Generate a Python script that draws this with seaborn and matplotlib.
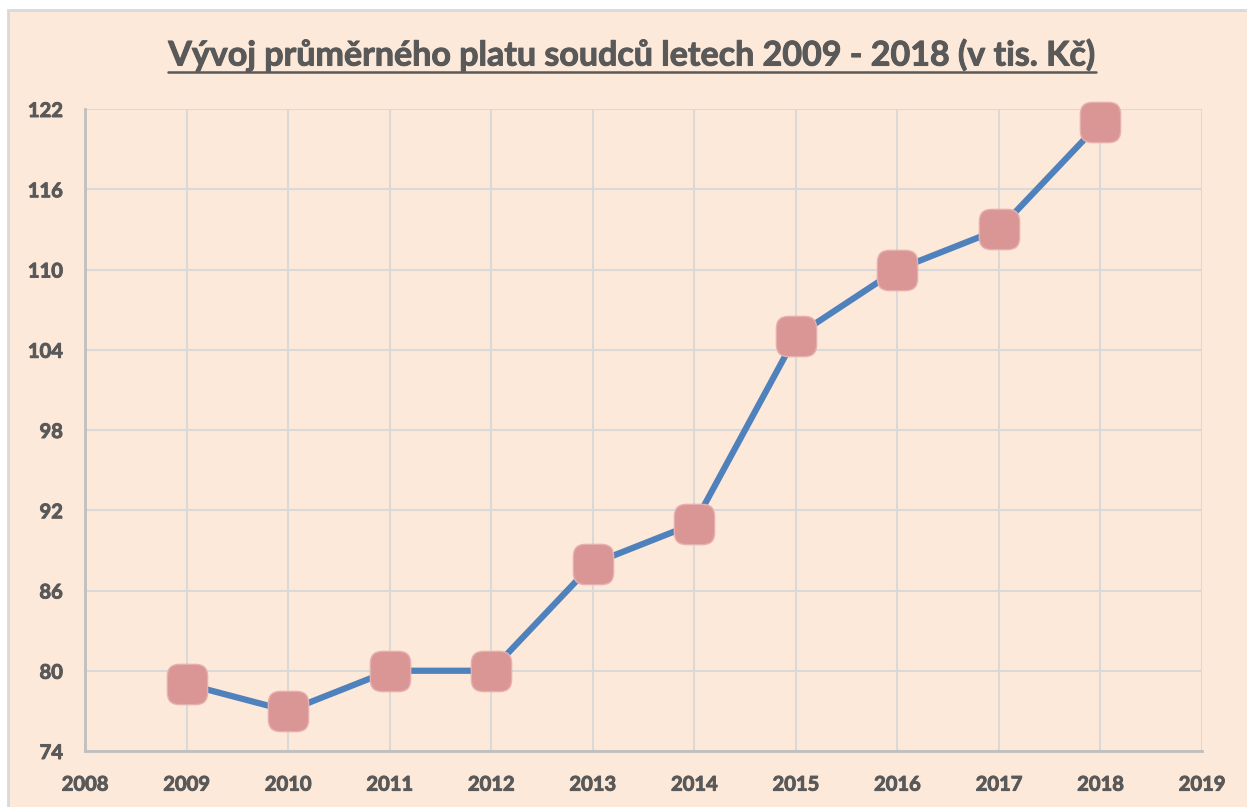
import matplotlib
matplotlib.use("Agg")
import matplotlib.pyplot as plt
import matplotlib.patches as mpatches
import matplotlib.patheffects as pe
from matplotlib.lines import Line2D
import seaborn as sns
import pandas as pd

# data
years = [2009, 2010, 2011, 2012, 2013, 2014, 2015, 2016, 2017, 2018]
salary = [79, 77, 80, 80, 88, 91, 105, 110, 113, 121]
xticks = list(range(2008, 2020))
yticks = [74, 80, 86, 92, 98, 104, 110, 116, 122]
title = "Vývoj průměrného platu soudců letech 2009 - 2018 (v tis. Kč)"

df = pd.DataFrame({"rok": years, "plat": salary})

sns.set_style("white")
plt.rcParams["font.family"] = ["Lato", "DejaVu Sans"]

bg = "#FDE9D9"
txt = "#595959"
bold_fx = [pe.withStroke(linewidth=0.7, foreground=txt)]

fig = plt.figure(figsize=(12.47, 8.07), dpi=100, facecolor="white")
# chart area box (cropped on right/bottom like the source)
fig.patches.append(mpatches.Rectangle((8 / 1247, -0.05), 1.2, 1 - 10 / 807 + 0.05,
                                      transform=fig.transFigure, facecolor=bg,
                                      edgecolor="#D9D9D9", linewidth=2, zorder=-10))

ax = fig.add_axes([85 / 1247, 1 - 751 / 807, (1202 - 85) / 1247, (751 - 109) / 807])
ax.set_facecolor(bg)

# rounded square marker
rs = mpatches.BoxStyle.Round(pad=0, rounding_size=0.3)
marker_path = rs(-0.5, -0.5, 1.0, 1.0, 1.0)

sns.lineplot(data=df, x="rok", y="plat", ax=ax, color="#4F81BD", linewidth=4.5,
             marker=marker_path, markersize=29, markerfacecolor="#DA9694",
             markeredgecolor="#E6B0AE", markeredgewidth=1, zorder=3, clip_on=False)

ax.set_xlim(2008, 2019)
ax.set_ylim(74, 122)
ax.set_xticks(xticks)
ax.set_yticks(yticks)
ax.grid(True, color="#D9D9D9", linewidth=1.5)
ax.set_axisbelow(True)
for s in ["top", "right"]:
    ax.spines[s].set_visible(False)
for s in ["left", "bottom"]:
    ax.spines[s].set_color("#BFBFBF")
    ax.spines[s].set_linewidth(2)
ax.tick_params(length=0, labelsize=14.5, labelcolor=txt)
ax.tick_params(axis="x", pad=17)
ax.tick_params(axis="y", pad=16)
for lab in ax.get_xticklabels() + ax.get_yticklabels():
    lab.set_fontweight("bold")
    lab.set_path_effects(bold_fx)
ax.set_xlabel("")
ax.set_ylabel("")

t = fig.text(632 / 1247, 1 - 55 / 807, title, ha="center", va="center",
             fontsize=24.5, fontweight="bold", color=txt, path_effects=bold_fx)
fig.canvas.draw()
bb = t.get_window_extent().transformed(fig.transFigure.inverted())
uy = 1 - 72 / 807
fig.add_artist(Line2D([bb.x0, bb.x1], [uy, uy], transform=fig.transFigure,
                      color=txt, linewidth=1.8))

fig.savefig("out.png", dpi=100, facecolor="white")
